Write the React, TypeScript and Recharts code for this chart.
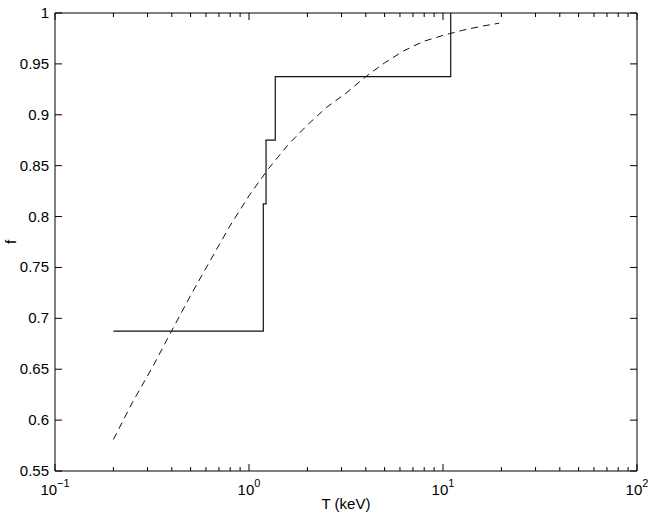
import React from "react";
import { LineChart, Line, XAxis, YAxis } from "recharts";

// Step series (solid)
const stepT = [0.2, 1.185, 1.185, 1.224, 1.224, 1.366, 1.366, 10.96, 10.96];
const stepF = [0.6875, 0.6875, 0.8125, 0.8125, 0.875, 0.875, 0.9375, 0.9375, 1.0];

// Smooth series (dashed)
const curveT = [0.2, 0.25, 0.32, 0.4, 0.5, 0.63, 0.79, 1.0, 1.26, 1.58, 2.0, 2.5, 3.2, 4.0, 5.0, 6.3, 7.9, 10, 12.6, 15.8, 19.5];
const curveF = [0.581, 0.617, 0.653, 0.688, 0.7225, 0.7565, 0.7895, 0.8205, 0.847, 0.87, 0.89, 0.907, 0.922, 0.9375, 0.951, 0.963, 0.972, 0.978, 0.983, 0.987, 0.99];

const majorX = [0.1, 1, 10, 100];
const majorExp = ["\u22121", "0", "1", "2"];
const minorMult = [2, 3, 4, 5, 6, 7, 8, 9];
const yTicks = [0.55, 0.6, 0.65, 0.7, 0.75, 0.8, 0.85, 0.9, 0.95, 1];

const xTicks: number[] = [];
majorX.forEach((m, i) => {
  xTicks.push(m);
  if (i < majorX.length - 1) minorMult.forEach((k) => xTicks.push(+(m * k).toPrecision(3)));
});

const stepData = stepT.map((t, i) => ({ T: t, f: stepF[i] }));
const curveData = curveT.map((t, i) => ({ T: t, f: curveF[i] }));

const FONT = "'Liberation Sans', Arial, Helvetica, sans-serif";

const isMajor = (v: number) => majorX.some((m) => Math.abs(m - v) < 1e-9);

const XTickBottom = (props: any) => {
  const { x, y, payload } = props;
  const v = payload.value;
  const major = isMajor(v);
  const idx = majorX.findIndex((m) => Math.abs(m - v) < 1e-9);
  return (
    <g>
      <line x1={x} x2={x} y1={y} y2={y - (major ? 7 : 4)} stroke="#000" strokeWidth={1} />
      {major && (
        <text x={x} y={y + 24} textAnchor="middle" fontFamily={FONT} fontSize={15} fill="#000">
          10
          <tspan dy={-8} fontSize={11}>{majorExp[idx]}</tspan>
        </text>
      )}
    </g>
  );
};

const XTickTop = (props: any) => {
  const { x, y, payload } = props;
  const major = isMajor(payload.value);
  return <line x1={x} x2={x} y1={y} y2={y + (major ? 7 : 4)} stroke="#000" strokeWidth={1} />;
};

const fmtY = (v: number) => String(Number(v.toFixed(2)));

const YTickLeft = (props: any) => {
  const { x, y, payload } = props;
  return (
    <g>
      <line x1={x} x2={x + 7} y1={y} y2={y} stroke="#000" strokeWidth={1} />
      <text x={x - 6} y={y + 5} textAnchor="end" fontFamily={FONT} fontSize={15} fill="#000">
        {fmtY(payload.value)}
      </text>
    </g>
  );
};

const YTickRight = (props: any) => {
  const { x, y } = props;
  return <line x1={x} x2={x - 7} y1={y} y2={y} stroke="#000" strokeWidth={1} />;
};

export default function App() {
  return (
    <div style={{ position: "absolute", left: 0, top: 0, width: 654, height: 516, background: "#fff" }}>
      <LineChart width={654} height={516} margin={{ top: 12, right: 16, bottom: 44, left: 54 }}>
        <XAxis
          xAxisId="b"
          type="number"
          dataKey="T"
          scale="log"
          domain={[0.1, 100]}
          ticks={xTicks}
          allowDataOverflow
          orientation="bottom"
          height={1}
          tickSize={0}
          tickMargin={0}
          tickLine={false}
          interval={0}
          axisLine={{ stroke: "#000", strokeWidth: 1 }}
          tick={<XTickBottom />}
        />
        <XAxis
          xAxisId="t"
          type="number"
          dataKey="T"
          scale="log"
          domain={[0.1, 100]}
          ticks={xTicks}
          allowDataOverflow
          orientation="top"
          height={1}
          tickSize={0}
          tickMargin={0}
          tickLine={false}
          interval={0}
          axisLine={{ stroke: "#000", strokeWidth: 1 }}
          tick={<XTickTop />}
        />
        <YAxis
          yAxisId="l"
          type="number"
          domain={[0.55, 1]}
          ticks={yTicks}
          allowDataOverflow
          orientation="left"
          width={1}
          tickSize={0}
          tickMargin={0}
          tickLine={false}
          interval={0}
          axisLine={{ stroke: "#000", strokeWidth: 1 }}
          tick={<YTickLeft />}
        />
        <YAxis
          yAxisId="r"
          type="number"
          domain={[0.55, 1]}
          ticks={yTicks}
          allowDataOverflow
          orientation="right"
          width={1}
          tickSize={0}
          tickMargin={0}
          tickLine={false}
          interval={0}
          axisLine={{ stroke: "#000", strokeWidth: 1 }}
          tick={<YTickRight />}
        />
        <Line
          xAxisId="b"
          yAxisId="l"
          data={curveData}
          dataKey="f"
          type="linear"
          stroke="#111"
          strokeWidth={1}
          strokeDasharray="7 5"
          dot={false}
          activeDot={false}
          isAnimationActive={false}
        />
        <Line
          xAxisId="b"
          yAxisId="l"
          data={stepData}
          dataKey="f"
          type="linear"
          stroke="#111"
          strokeWidth={1.2}
          dot={false}
          activeDot={false}
          isAnimationActive={false}
        />
        <text x={346} y={509} textAnchor="middle" fontFamily={FONT} fontSize={15} fill="#000">
          T (keV)
        </text>
        <text
          x={16}
          y={242}
          textAnchor="middle"
          fontFamily={FONT}
          fontSize={15}
          fill="#000"
          transform="rotate(-90 16 242)"
        >
          f
        </text>
      </LineChart>
    </div>
  );
}
